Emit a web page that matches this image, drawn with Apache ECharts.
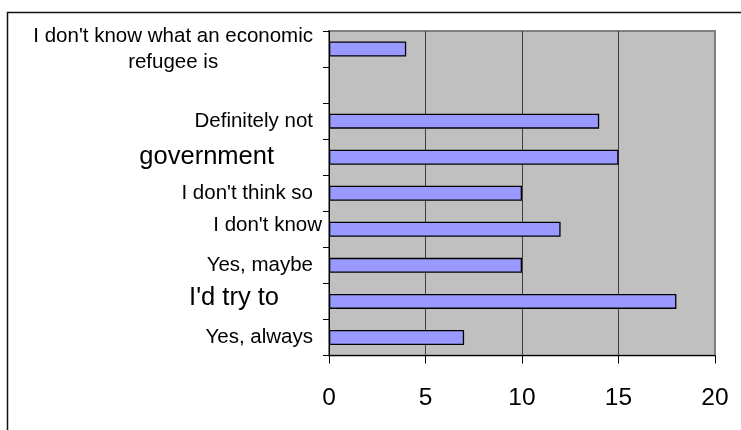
<!DOCTYPE html>
<html>
<head>
<meta charset="utf-8">
<script src="https://cdn.jsdelivr.net/npm/echarts@6/dist/echarts.min.js"></script>
<style>
  html, body { margin: 0; padding: 0; background: #fff; }
  #chart { width: 741px; height: 430px; }
</style>
</head>
<body>
<div id="chart"></div>
<script>
// Survey answers, listed top to bottom as they appear on the chart
const categories = [
  "I don't know what an economic\nrefugee is",
  "",
  "Definitely not",
  "government",
  "I don't think so",
  "I don't know",
  "Yes, maybe",
  "I'd try to",
  "Yes, always"
];
const responses = [4, null, 14, 15, 10, 12, 10, 18, 7];
const xTicks = [0, 5, 10, 15, 20];

// Rich-text style key used for each category label
const labelKeys = ['wrap', 'plain', 'plain', 'big', 'plain', 'shift', 'plain', 'bigLow', 'plain'];

const FONT = "'Liberation Sans', Arial, sans-serif";

const chart = echarts.init(document.getElementById('chart'), null, { renderer: 'canvas' });

chart.setOption({
  animation: false,
  backgroundColor: '#ffffff',
  textStyle: { fontFamily: FONT, color: '#000' },
  graphic: [{
    type: 'rect',
    silent: true,
    shape: { x: 7.5, y: 12.5, width: 800, height: 500 },
    style: { fill: 'none', stroke: '#111', lineWidth: 1.5 }
  }],
  grid: {
    left: 329,
    top: 31,
    right: 26,
    bottom: 74.5,
    show: true,
    backgroundColor: '#c0c0c0',
    borderColor: '#808080',
    borderWidth: 2
  },
  xAxis: {
    type: 'value',
    min: xTicks[0],
    max: xTicks[xTicks.length - 1],
    interval: xTicks[1] - xTicks[0],
    axisLine: { show: true, lineStyle: { color: '#000', width: 1 } },
    axisTick: { show: true, length: 8, lineStyle: { color: '#000' } },
    axisLabel: { fontSize: 24.5, margin: 30, color: '#000', fontFamily: FONT },
    splitLine: {
      show: true,
      lineStyle: { color: ['#808080', '#404040', '#404040', '#404040', '#808080'], width: 1 }
    }
  },
  yAxis: {
    type: 'category',
    data: categories,
    inverse: true,
    axisLine: { show: true, lineStyle: { color: '#000', width: 1 } },
    axisTick: { show: true, length: 6, alignWithLabel: false, lineStyle: { color: '#000' } },
    splitLine: { show: false },
    axisLabel: {
      interval: 0,
      margin: 7,
      color: '#000',
      fontFamily: FONT,
      formatter: function (value, index) {
        if (!value) return '';
        const key = labelKeys[index];
        return value.split('\n').map(function (line) {
          return '{' + key + '|' + line + '}';
        }).join('\n');
      },
      rich: {
        wrap:   { fontSize: 20.5, lineHeight: 26, align: 'center', padding: [0, 9, 0, 0], fontFamily: FONT, color: '#000' },
        plain:  { fontSize: 20.5, padding: [0, 9, 0, 0], fontFamily: FONT, color: '#000' },
        shift:  { fontSize: 20.5, padding: [0, 0, 8, 0], fontFamily: FONT, color: '#000' },
        big:    { fontSize: 25.5, padding: [0, 48, 0, 0], fontFamily: FONT, color: '#000' },
        bigLow: { fontSize: 25.5, padding: [0, 43, 6, 0], fontFamily: FONT, color: '#000' }
      }
    }
  },
  series: [{
    type: 'bar',
    data: responses,
    barWidth: 15,
    silent: true,
    itemStyle: { color: '#9999ff', borderColor: '#000', borderWidth: 1.3 },
    emphasis: { disabled: true }
  }]
});
</script>
</body>
</html>
